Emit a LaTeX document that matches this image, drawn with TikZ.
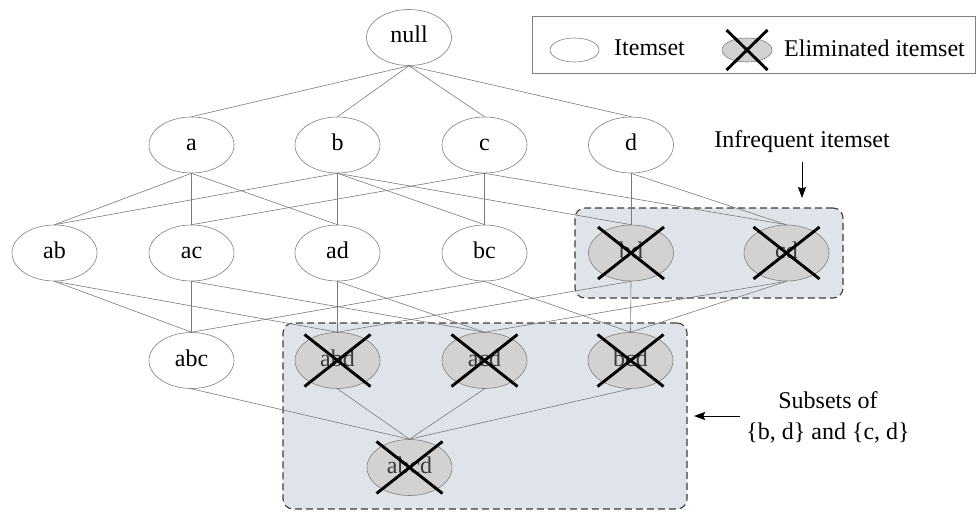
\documentclass[tikz,border=0pt]{standalone}
\usepackage{fontspec}
\setmainfont{Liberation Serif}
\usetikzlibrary{shapes.geometric,arrows.meta}
\definecolor{edgec}{HTML}{7A7A7A}
\definecolor{nodeb}{HTML}{7F7F7F}
\definecolor{elimf}{HTML}{D2D2D2}
\definecolor{elimt}{HTML}{3A3A3A}
\definecolor{boxf}{HTML}{DFE4EA}
\definecolor{boxb}{HTML}{3C3C3C}
\definecolor{legb}{HTML}{808080}
\begin{document}
\begin{tikzpicture}[x=1pt,y=-1pt,
  every node/.style={font=\fontsize{24}{31}\selectfont},
  item/.style={ellipse, draw=nodeb, fill=white, minimum width=85pt, minimum height=56pt, inner sep=0pt, line width=0.6pt, text height=11pt, text depth=0pt},
  elim/.style={item, fill=elimf, text=elimt},
  link/.style={draw=edgec, line width=0.6pt},
  xmark/.style={line width=2.9pt, black},
  region/.style={draw=boxb, dash pattern=on 7pt off 4pt, fill=boxf, rounded corners=10pt, line width=1.1pt, inner sep=0pt},
  lbl/.style={inner sep=0pt, text=black},
  pointer/.style={-{Stealth[length=11pt,width=8pt,inset=1.5pt]}, line width=0.9pt, black}]

\useasboundingbox (0,0) rectangle (976,511);

% regions
\node[region, minimum width=268pt, minimum height=90pt] (infbox) at (709,253) {};
\node[region, minimum width=404pt, minimum height=186pt] (subbox) at (485,416) {};

% legend
\node[draw=legb, line width=0.8pt, minimum width=443pt, minimum height=57pt, inner sep=0pt] (legend) at (753.5,44.5) {};
\node[ellipse, draw=nodeb, fill=white, minimum width=49pt, minimum height=24pt, inner sep=0pt, line width=0.6pt] (legitem) at (574.5,50) {};
\node[lbl, anchor=west] (legitemtxt) at (614,48) {Itemset};
\node[ellipse, draw=nodeb, fill=elimf, minimum width=50pt, minimum height=24pt, inner sep=0pt, line width=0.6pt] (legelim) at (747,50) {};
\draw[xmark] ([shift={(-20.5,-20)}]legelim.center) -- ([shift={(20.5,20)}]legelim.center);
\draw[xmark] ([shift={(-20.5,20)}]legelim.center) -- ([shift={(20.5,-20)}]legelim.center);
\node[lbl, anchor=west] (legelimtxt) at (784,48) {Eliminated itemset};

% lattice nodes
\node[item] (null) at (409,37.5) {null};
\node[item] (a) at (191.5,145) {a};
\node[item] (b) at (337.5,145) {b};
\node[item] (c) at (484.5,145) {c};
\node[item] (d) at (631,145) {d};
\node[item] (ab) at (54.5,253) {ab};
\node[item] (ac) at (191.5,253) {ac};
\node[item] (ad) at (337.5,253) {ad};
\node[item] (bc) at (484.5,253) {bc};
\node[elim] (bd) at (631,253) {bd};
\node[elim] (cd) at (786.5,253) {cd};
\node[item] (abc) at (191.5,360.5) {abc};
\node[elim] (abd) at (337.5,360.5) {abd};
\node[elim] (acd) at (484.5,360.5) {acd};
\node[elim] (bcd) at (630.5,360.5) {bcd};
\node[elim] (abcd) at (409.5,467.5) {abcd};

% edges
\foreach \u/\v in {null/a,null/b,null/c,null/d,
  a/ab,a/ac,a/ad,b/ab,b/ad,b/bc,b/bd,c/ac,c/bc,c/cd,d/bd,d/cd,
  ab/abc,ab/abd,ac/abc,ac/acd,ad/abd,ad/acd,bc/abc,bc/bcd,bd/abd,bd/bcd,cd/acd,cd/bcd,
  abc/abcd,abd/abcd,acd/abcd,bcd/abcd}
  \draw[link] (\u.south) -- (\v.north);

% crosses
\foreach \n in {bd,cd,abd,acd,bcd,abcd}{
  \draw[xmark] ([shift={(-33,-26)}]\n.center) -- ([shift={(33,26)}]\n.center);
  \draw[xmark] ([shift={(-33,26)}]\n.center) -- ([shift={(33,-26)}]\n.center);
}

% annotations
\node[lbl] (inftxt) at (802,142) {Infrequent itemset};
\coordinate (infa) at (802,162);
\coordinate (infb) at (802,198);
\draw[pointer] (infa) -- (infb);

\node[lbl, align=center] (subtxt) at (828,417) {Subsets of\\\{b, d\} and \{c, d\}};
\coordinate (suba) at (740,416);
\coordinate (subb) at (694,416);
\draw[pointer] (suba) -- (subb);
\end{tikzpicture}
\end{document}
